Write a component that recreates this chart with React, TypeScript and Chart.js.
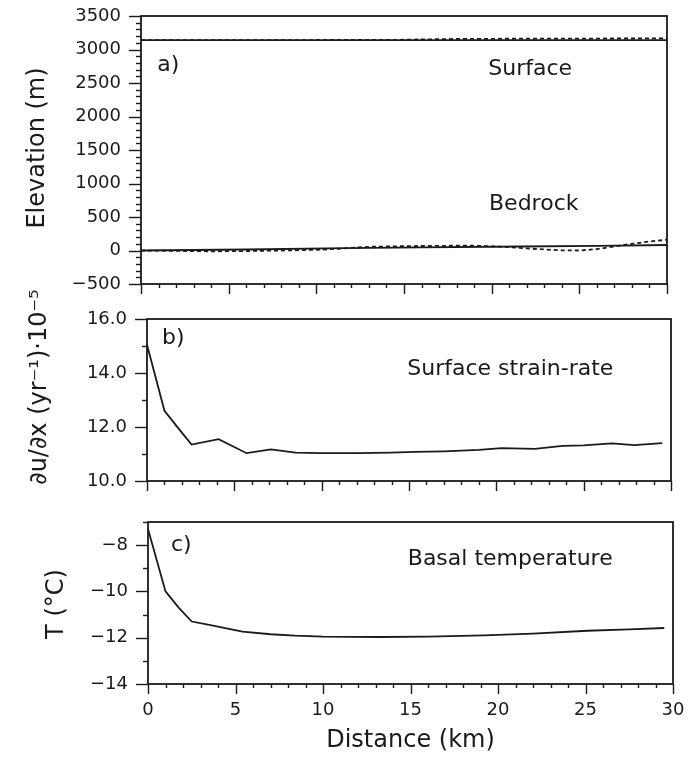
import React, { useEffect, useRef } from 'react';
import { Chart, registerables } from 'chart.js';

Chart.register(...registerables);

// ---------- data ----------
const distanceTicks = [0, 5, 10, 15, 20, 25, 30];

// a) elevation
const elevationTicks = [-500, 0, 500, 1000, 1500, 2000, 2500, 3000, 3500];
const surfaceModelKm = [0, 30];
const surfaceModel = [3140, 3140];
const surfaceMeasuredKm = [0, 14, 18, 24, 30];
const surfaceMeasured = [3140, 3142, 3158, 3163, 3165];
const bedrockModelKm = [0, 6, 11.7, 16, 21.6, 26, 30];
const bedrockModel = [0, 15, 35, 48, 60, 70, 82];
const bedrockMeasuredKm = [0, 2, 4, 6, 8, 10, 11.5, 13, 15, 17, 19, 20, 21, 22, 23, 24, 25, 26, 27, 28, 29, 30];
const bedrockMeasured = [0, -5, -12, -8, 0, 10, 30, 55, 65, 70, 72, 62, 50, 32, 15, 3, 0, 20, 60, 100, 135, 160];

// b) surface strain-rate
const strainTicks = [10, 12, 14, 16];
const strainKm = [0, 1, 1.8, 2.55, 4.1, 5.7, 7.1, 8.5, 10, 12, 14, 15.3, 17, 19, 20.3, 22.2, 23.8, 25, 26.6, 27.9, 29.5];
const strainRate = [15.05, 12.6, 11.95, 11.35, 11.55, 11.03, 11.17, 11.05, 11.03, 11.03, 11.05, 11.08, 11.1, 11.15, 11.22, 11.19, 11.3, 11.32, 11.39, 11.33, 11.4];

// c) basal temperature
const tempTicks = [-14, -12, -10, -8];
const tempKm = [0, 1, 1.75, 2.5, 3.5, 5.4, 7, 8.4, 10, 13.3, 16, 19.2, 22, 25.1, 27.5, 29.5];
const basalTemp = [-7.3, -10.0, -10.7, -11.3, -11.45, -11.74, -11.85, -11.91, -11.95, -11.97, -11.95, -11.9, -11.82, -11.7, -11.64, -11.58];

// ---------- styling ----------
const FONT = "'DejaVu Sans', sans-serif";
const INK = '#1a1a1a';

const pts = (xs: number[], ys: number[]) => xs.map((x, i) => ({ x, y: ys[i] }));
const minus = (s: string) => s.replace('-', '\u2212');

const decorPlugin = {
  id: 'decor',
  afterDatasetsDraw(chart: any, _args: any, opts: any) {
    const { ctx, chartArea: a, scales } = chart;
    const xs = scales.x;
    const ys = scales.y;
    ctx.save();
    ctx.strokeStyle = INK;
    ctx.lineWidth = 1.8;
    ctx.strokeRect(a.left, a.top, a.right - a.left, a.bottom - a.top);
    ctx.lineWidth = 1.4;
    // y ticks (outward, left)
    const n = Math.round((opts.yMax - opts.yMin) / opts.yMinor);
    for (let i = 0; i <= n; i++) {
      const v = opts.yMin + i * opts.yMinor;
      const r = v / opts.yMajor;
      const major = Math.abs(r - Math.round(r)) < 1e-6;
      const py = Math.round(ys.getPixelForValue(v)) + 0.5;
      const len = major ? 12 : 5;
      ctx.beginPath();
      ctx.moveTo(a.left - len, py);
      ctx.lineTo(a.left, py);
      ctx.stroke();
    }
    // x ticks (outward, down)
    for (let k = 0; k <= 30; k++) {
      const major = k % 5 === 0;
      const px = Math.round(xs.getPixelForValue(k)) + 0.5;
      const len = major ? 10 : 4;
      ctx.beginPath();
      ctx.moveTo(px, a.bottom);
      ctx.lineTo(px, a.bottom + len);
      ctx.stroke();
    }
    // annotations
    ctx.fillStyle = INK;
    ctx.textAlign = 'center';
    ctx.textBaseline = 'middle';
    for (const t of opts.texts) {
      ctx.font = `${t.size || 22}px ${FONT}`;
      ctx.fillText(t.text, xs.getPixelForValue(t.x), ys.getPixelForValue(t.y));
    }
    // y title
    const yt = opts.yTitle;
    ctx.save();
    ctx.translate(yt.px, yt.py);
    ctx.rotate(-Math.PI / 2);
    ctx.font = `${yt.size || 24}px ${FONT}`;
    ctx.fillText(yt.text, 0, 0);
    ctx.restore();
    ctx.restore();
  },
};

type Panel = {
  top: number;
  height: number;
  padTop: number;
  padRight: number;
  yWidth: number;
  xHeight: number;
  yMin: number;
  yMax: number;
  yMajor: number;
  yMinor: number;
  yTicks: number[];
  yFormat: (v: number) => string;
  showX: boolean;
  datasets: any[];
  texts: any[];
  yTitle: any;
};

const line = (data: any[], dashed: boolean) => ({
  data,
  borderColor: INK,
  borderWidth: 1.8,
  borderDash: dashed ? [4, 3] : [],
  pointRadius: 0,
  tension: 0,
  fill: false,
});

const panels: Panel[] = [
  {
    top: 0,
    height: 300,
    padTop: 16,
    padRight: 24,
    yWidth: 141,
    xHeight: 16,
    yMin: -500,
    yMax: 3500,
    yMajor: 500,
    yMinor: 100,
    yTicks: elevationTicks,
    yFormat: (v) => minus(String(v)),
    showX: false,
    datasets: [
      line(pts(surfaceModelKm, surfaceModel), false),
      line(pts(surfaceMeasuredKm, surfaceMeasured), true),
      line(pts(bedrockModelKm, bedrockModel), false),
      line(pts(bedrockMeasuredKm, bedrockMeasured), true),
    ],
    texts: [
      { text: 'a)', x: 1.55, y: 2770 },
      { text: 'Surface', x: 22.2, y: 2710 },
      { text: 'Bedrock', x: 22.4, y: 694 },
    ],
    yTitle: { text: 'Elevation (m)', px: 38, py: 148 },
  },
  {
    top: 280,
    height: 220,
    padTop: 39,
    padRight: 20,
    yWidth: 147,
    xHeight: 19,
    yMin: 10,
    yMax: 16,
    yMajor: 2,
    yMinor: 1,
    yTicks: strainTicks,
    yFormat: (v) => v.toFixed(1),
    showX: false,
    datasets: [line(pts(strainKm, strainRate), false)],
    texts: [
      { text: 'b)', x: 1.5, y: 15.3 },
      { text: 'Surface strain-rate', x: 20.8, y: 14.15 },
    ],
    yTitle: { text: '\u2202u/\u2202x (yr\u207B\u00B9)\u00B710\u207B\u2075', px: 40, py: 107 },
  },
  {
    top: 500,
    height: 260,
    padTop: 22,
    padRight: 18,
    yWidth: 148,
    xHeight: 76,
    yMin: -14,
    yMax: -7,
    yMajor: 2,
    yMinor: 1,
    yTicks: tempTicks,
    yFormat: (v) => minus(String(v)),
    showX: true,
    datasets: [line(pts(tempKm, basalTemp), false)],
    texts: [
      { text: 'c)', x: 1.9, y: -8.0 },
      { text: 'Basal temperature', x: 20.7, y: -8.6 },
    ],
    yTitle: { text: 'T (\u00B0C)', px: 57, py: 104 },
  },
];

function PanelChart({ p }: { p: Panel }) {
  const ref = useRef<HTMLCanvasElement | null>(null);
  useEffect(() => {
    if (!ref.current) return;
    const chart = new Chart(ref.current, {
      type: 'line',
      data: { datasets: p.datasets },
      plugins: [decorPlugin as any],
      options: {
        responsive: false,
        animation: false,
        events: [],
        layout: { padding: { top: p.padTop, right: p.padRight, left: 0, bottom: 0 } },
        plugins: {
          legend: { display: false },
          tooltip: { enabled: false },
          decor: {
            yMin: p.yMin,
            yMax: p.yMax,
            yMajor: p.yMajor,
            yMinor: p.yMinor,
            texts: p.texts,
            yTitle: p.yTitle,
          },
        } as any,
        scales: {
          x: {
            type: 'linear',
            min: 0,
            max: 30,
            grid: { display: false, drawTicks: false },
            border: { display: false },
            afterBuildTicks: (s: any) => {
              s.ticks = distanceTicks.map((v) => ({ value: v }));
            },
            afterFit: (s: any) => {
              s.height = p.xHeight;
              s.paddingLeft = 0;
              s.paddingRight = 0;
            },
            ticks: {
              display: p.showX,
              padding: 16,
              color: INK,
              font: { family: FONT, size: 18 },
              maxRotation: 0,
              autoSkip: false,
            },
            title: {
              display: p.showX,
              text: 'Distance (km)',
              color: INK,
              font: { family: FONT, size: 24 },
              padding: { top: 0, bottom: 5 },
            },
          },
          y: {
            type: 'linear',
            min: p.yMin,
            max: p.yMax,
            grid: { display: false, drawTicks: false },
            border: { display: false },
            afterBuildTicks: (s: any) => {
              s.ticks = p.yTicks.map((v) => ({ value: v }));
            },
            afterFit: (s: any) => {
              s.width = p.yWidth;
              s.paddingTop = 0;
              s.paddingBottom = 0;
            },
            ticks: {
              padding: 20,
              color: INK,
              font: { family: FONT, size: 18 },
              autoSkip: false,
              callback: (v: any) => p.yFormat(Number(v)),
            },
          },
        },
      } as any,
    });
    return () => chart.destroy();
  }, [p]);
  return (
    <canvas
      ref={ref}
      width={691}
      height={p.height}
      style={{ position: 'absolute', left: 0, top: p.top, width: 691, height: p.height, display: 'block' }}
    />
  );
}

export default function App() {
  return (
    <div
      style={{
        position: 'absolute',
        left: 0,
        top: 0,
        width: 691,
        height: 760,
        overflow: 'hidden',
        background: '#ffffff',
      }}
    >
      {panels.map((p, i) => (
        <PanelChart key={i} p={p} />
      ))}
    </div>
  );
}
